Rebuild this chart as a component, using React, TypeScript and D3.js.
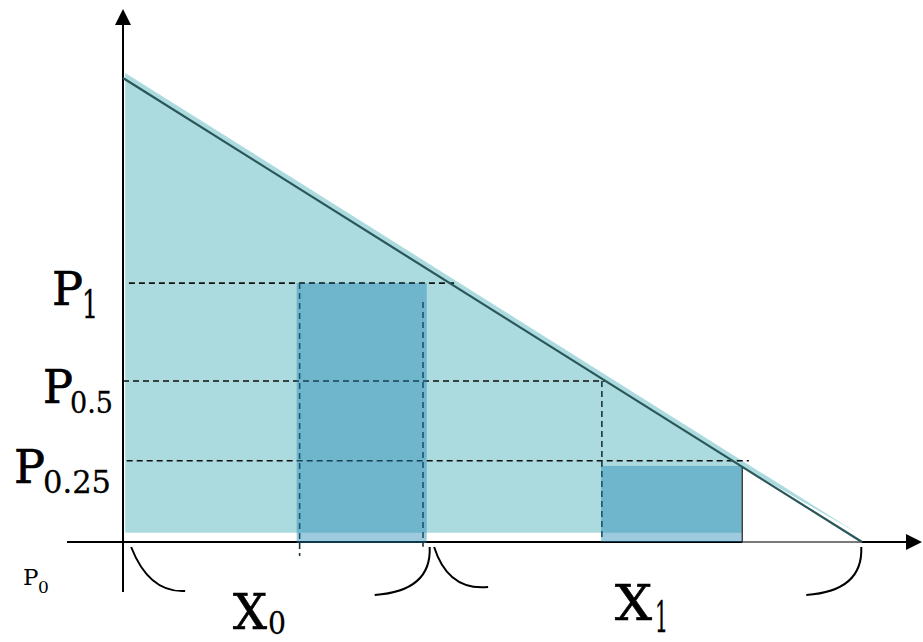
import React from "react";
import { scaleLinear, line } from "d3";

// quantity (x) and price (y) in chart units
const demandLine: [number, number][] = [
  [0, 100],
  [100, 0]
];
const surplusArea: [number, number][] = [
  [0.3, 101.1],
  [99.3, 2.0],
  [83.8, 16.2],
  [83.8, 2.0],
  [0.3, 2.0]
];

const priceLevels = [
  { sub: "1", p: 55.8, qEnd: 44.8, qStart: 0.8 },
  { sub: "0.5", p: 34.7, qEnd: 65.2, qStart: 0 },
  { sub: "0.25", p: 17.5, qEnd: 84.7, qStart: 0.5 }
];

const bars = [
  { q0: 23.5, q1: 41.1, p: 55.8 },
  { q0: 64.7, q1: 83.8, p: 16.4 }
];

const guides = [
  { q: 23.9, pTop: 55.8, pBottom: -3.0 },
  { q: 40.6, pTop: 51.7, pBottom: -1.0 },
  { q: 64.8, pTop: 34.7, pBottom: 0 }
];

const quantityRanges = [
  { sub: "0", q0: 1.1, q1: 41.5 },
  { sub: "1", q0: 42.1, q1: 99.9 }
];

export default function App() {
  const width = 923,
    height = 642;

  const x = scaleLinear().domain([0, 100]).range([123, 862]);
  const y = scaleLinear().domain([0, 100]).range([542, 78]);

  const path = line<[number, number]>()
    .x(d => x(d[0]))
    .y(d => y(d[1]));

  const font = "'DejaVu Serif', serif";
  const labelX = [52, 43, 14];
  const pWidth = [31, 30, 31];
  const subDx = [30, 27, 29];
  const subSize = [40, 30, 31];
  const subLen = [16, 43, 68];
  const heavy = { stroke: "#000", strokeWidth: 0.7 };

  return (
    <svg
      width={width}
      height={height}
      style={{ position: "absolute", left: 0, top: 0, background: "#fff" }}
    >
      {/* shaded area under the demand curve */}
      <path d={path(surplusArea) + "Z"} fill="#acdbdf" />

      {/* price guides */}
      {priceLevels.map((d, i) => (
        <line
          key={"h" + i}
          x1={x(d.qStart)}
          x2={x(d.qEnd)}
          y1={y(d.p)}
          y2={y(d.p)}
          stroke="#111"
          strokeWidth={1.6}
          strokeDasharray="6 4"
        />
      ))}
      {guides.map((d, i) => (
        <line
          key={"v" + i}
          x1={x(d.q)}
          x2={x(d.q)}
          y1={y(d.pTop)}
          y2={y(d.pBottom)}
          stroke="#1a333a"
          strokeWidth={1.6}
          strokeDasharray="6 4"
        />
      ))}

      {/* axes */}
      <line x1={67} x2={908} y1={y(0)} y2={y(0)} stroke="#000" strokeWidth={2} />
      <line
        x1={x(bars[1].q1)}
        x2={x(100)}
        y1={y(0)}
        y2={y(0)}
        stroke="#7a7a7a"
        strokeWidth={2}
      />
      <path d={`M906,${y(0) - 8}L922,${y(0)}L906,${y(0) + 8}Z`} fill="#000" />
      <line x1={x(0)} x2={x(0)} y1={592} y2={24} stroke="#000" strokeWidth={2} />
      <path d={`M${x(0) - 8},25L${x(0)},9L${x(0) + 8},25Z`} fill="#000" />

      {/* quantity bars */}
      {bars.map((d, i) => (
        <rect
          key={"b" + i}
          x={x(d.q0)}
          y={y(d.p)}
          width={x(d.q1) - x(d.q0)}
          height={y(0) - y(d.p) + (i === 0 ? 1 : 0)}
          fill="#1d85b0"
          fillOpacity={0.43}
        />
      ))}
      <line
        x1={x(bars[1].q1)}
        x2={x(bars[1].q1)}
        y1={y(bars[1].p)}
        y2={y(0)}
        stroke="#333"
        strokeWidth={1.3}
      />

      {/* demand curve */}
      <path d={path(demandLine) ?? ""} fill="none" stroke="#2b5659" strokeWidth={2.2} />

      {/* braces */}
      {quantityRanges.map((d, i) => {
        const a = x(d.q0),
          b = x(d.q1),
          top = y(0) + 5;
        const left =
          i === 0
            ? `M${a},${top}Q${a + 18},${top + 46} ${a + 54},${top + 44}`
            : `M${a},${top}Q${a + 14},${top + 44} ${a + 54},${top + 40}`;
        const right = `M${b},${top}Q${b + 2},${top + 44} ${b - 55},${top + 48}`;
        return (
          <g key={"br" + i} fill="none" stroke="#000" strokeWidth={2}>
            <path d={left} />
            <path d={right} />
          </g>
        );
      })}

      {/* price labels */}
      {priceLevels.map((d, i) => (
        <g key={"pl" + i} fill="#000" fontFamily={font} {...heavy}>
          <text
            x={labelX[i]}
            y={y(d.p) + 22}
            fontSize={46}
            textLength={pWidth[i]}
            lengthAdjust="spacingAndGlyphs"
          >
            P
          </text>
          <text
            x={labelX[i] + subDx[i]}
            y={y(d.p) + (i === 0 ? 35 : 32)}
            fontSize={subSize[i]}
            textLength={subLen[i]}
            lengthAdjust="spacingAndGlyphs"
            strokeWidth={0.3}
          >
            {d.sub}
          </text>
        </g>
      ))}
      <g fill="#000" fontFamily={font}>
        <text x={23} y={585} fontSize={23}>
          P
        </text>
        <text x={38} y={593} fontSize={17}>
          0
        </text>
      </g>

      {/* quantity labels */}
      {quantityRanges.map((d, i) => {
        const lx = i === 0 ? 233 : 615;
        const base = i === 0 ? 629 : 620;
        return (
          <g key={"ql" + i} fill="#000" fontFamily={font} {...heavy}>
            <text
              x={lx}
              y={base}
              fontSize={49}
              textLength={i === 0 ? 34 : 37}
              lengthAdjust="spacingAndGlyphs"
            >
              X
            </text>
            <text
              x={lx + (i === 0 ? 35 : 40)}
              y={i === 0 ? 634 : 632}
              fontSize={i === 0 ? 32 : 42}
              textLength={i === 0 ? 18 : 13}
              lengthAdjust="spacingAndGlyphs"
              strokeWidth={0.3}
            >
              {d.sub}
            </text>
          </g>
        );
      })}
    </svg>
  );
}
